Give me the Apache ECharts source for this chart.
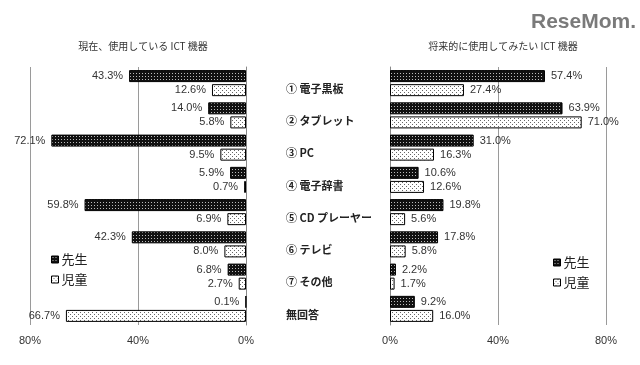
<!DOCTYPE html>
<html><head><meta charset="utf-8">
<script src="https://cdn.jsdelivr.net/npm/echarts@6/dist/echarts.min.js"></script>
<style>html,body{margin:0;padding:0;background:#fff}#c{width:640px;height:365px}</style>
</head><body><div id="c"></div>
<script>
const categories = ['① 電子黒板','② タブレット','③ PC','④ 電子辞書','⑤ CD プレーヤー','⑥ テレビ','⑦ その他','無回答'];
const seriesNames = ['先生','児童'];
const currentTeacher = [43.3, 14.0, 72.1, 5.9, 59.8, 42.3, 6.8, 0.1];
const currentChildren = [12.6, 5.8, 9.5, 0.7, 6.9, 8.0, 2.7, 66.7];
const futureTeacher = [57.4, 63.9, 31.0, 10.6, 19.8, 17.8, 2.2, 9.2];
const futureChildren = [27.4, 71.0, 16.3, 12.6, 5.6, 5.8, 1.7, 16.0];
const titleLeft = '現在、使用している ICT 機器';
const titleRight = '将来的に使用してみたい ICT 機器';
const xTicks = [0, 40, 80];

function makePattern(bg, fg, pts, size){
  const c = document.createElement('canvas'); c.width = size; c.height = size;
  const g = c.getContext('2d'); g.fillStyle = bg; g.fillRect(0,0,size,size);
  g.fillStyle = fg; pts.forEach(p => g.fillRect(p[0], p[1], 1, 1));
  return {image: c, repeat: 'repeat'};
}
const darkPat = makePattern('#111', '#bbb', [[1,1]], 3);
const lightPat = makePattern('#fff', '#666', [[0,0],[2,2]], 4);

const chart = echarts.init(document.getElementById('c'), null, {renderer:'canvas'});
const labelFont = {fontSize: 11, color: '#333', fontFamily: 'Liberation Sans'};
function barSeries(name, data, xi, pat, pos){
  return {
    type: 'bar', name, xAxisIndex: xi, yAxisIndex: xi, data,
    barWidth: 12, barGap: '17%', barCategoryGap: '20%',
    itemStyle: {color: pat, borderColor: '#000', borderWidth: 1},
    label: Object.assign({show: true, position: pos, distance: 6,
      formatter: p => p.value.toFixed(1) + '%'}, labelFont),
    emphasis: {disabled: true}
  };
}
const xAxisBase = {
  type: 'value', min: xTicks[0], max: xTicks[2], interval: 40,
  axisLine: {show: false}, axisTick: {show: false},
  splitLine: {lineStyle: {color: '#9a9a9a', width: 1}},
  axisLabel: Object.assign({margin: 10, formatter: v => v + '%'}, labelFont)
};
const legendBase = {orient: 'vertical', icon: 'rect', itemWidth: 7, itemHeight: 7, itemGap: 7, data: seriesNames,
  textStyle: {fontSize: 13, color: '#222', fontFamily: 'Noto Sans CJK JP', padding: [0,0,0,-2]}, selectedMode: false,
  itemStyle: {borderColor: '#000', borderWidth: 1}};
chart.setOption({
  animation: false,
  textStyle: {fontFamily: "'Noto Sans CJK JP', sans-serif"},
  title: [
    {text: titleLeft, left: 138, top: 36, textAlign: 'center', textStyle: {fontSize: 10, fontWeight: 'normal', color: '#333', fontFamily: 'Noto Sans CJK JP'}},
    {text: titleRight, left: 498, top: 36, textAlign: 'center', textStyle: {fontSize: 10, fontWeight: 'normal', color: '#333', fontFamily: 'Noto Sans CJK JP'}}
  ],
  graphic: [{type: 'text', right: 4, top: 12, style: {text: 'ReseMom.', fontSize: 21, fontWeight: 'bold', fill: '#7a7a7a', fontFamily: 'Liberation Sans'}}],
  legend: [
    Object.assign({left: 46, top: 248}, legendBase),
    Object.assign({left: 548, top: 251}, legendBase)
  ],
  grid: [
    {left: 30, right: 394, top: 67, bottom: 40},
    {left: 390, right: 34, top: 67, bottom: 40}
  ],
  xAxis: [
    Object.assign({gridIndex: 0, inverse: true}, xAxisBase),
    Object.assign({gridIndex: 1}, xAxisBase)
  ],
  yAxis: [
    {type: 'category', gridIndex: 0, data: categories, inverse: true, position: 'right',
     axisLine: {lineStyle: {color: '#888'}}, axisTick: {show: false}, axisLabel: {show: false}},
    {type: 'category', gridIndex: 1, data: categories, inverse: true, position: 'left',
     axisLine: {lineStyle: {color: '#888'}}, axisTick: {show: false},
     axisLabel: {align: 'left', verticalAlign: 'top', margin: 104, fontSize: 11, fontWeight: 'bold', color: '#222',
       fontFamily: 'Noto Sans CJK JP'}}
  ],
  series: [
    barSeries(seriesNames[0], currentTeacher, 0, darkPat, 'left'),
    barSeries(seriesNames[1], currentChildren, 0, lightPat, 'left'),
    barSeries(seriesNames[0], futureTeacher, 1, darkPat, 'right'),
    barSeries(seriesNames[1], futureChildren, 1, lightPat, 'right')
  ]
});
</script></body></html>
